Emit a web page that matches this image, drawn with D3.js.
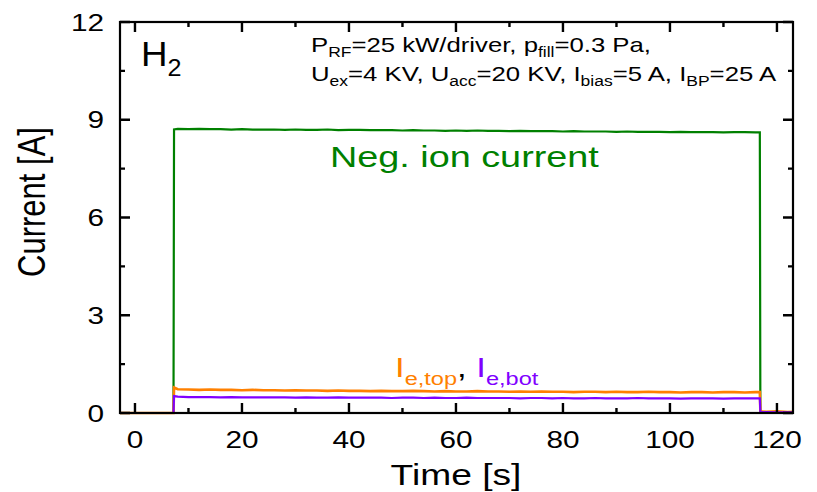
<!DOCTYPE html>
<html>
<head>
<meta charset="utf-8">
<script src="https://cdn.jsdelivr.net/npm/d3@7"></script>
<style>
  html, body { margin: 0; padding: 0; background: #fff; }
  svg { display: block; }
  text { font-family: "Liberation Sans", Arial, Helvetica, sans-serif; }
</style>
</head>
<body>
<svg id="chart" width="817" height="492"></svg>
<script>
// ---------------- data ----------------
const time = [-2.8, 7.2, 7.3,
  8, 10, 12, 14, 16, 18, 20, 22, 24, 26,
  28, 30, 32, 34, 36, 38, 40, 42, 44, 46,
  48, 50, 52, 54, 56, 58, 60, 62, 64, 66,
  68, 70, 72, 74, 76, 78, 80, 82, 84, 86,
  88, 90, 92, 94, 96, 98, 100, 102, 104, 106,
  108, 110, 112, 114, 116,
  116.8, 116.9, 118, 120, 122, 123];

const negIonCurrent = [0, 0, 8.70,
  8.72, 8.71, 8.72, 8.71, 8.71, 8.70, 8.71, 8.70, 8.70, 8.70,
  8.69, 8.70, 8.69, 8.69, 8.70, 8.68, 8.69, 8.69, 8.68, 8.68,
  8.68, 8.67, 8.68, 8.67, 8.67, 8.66, 8.67, 8.66, 8.67, 8.66,
  8.66, 8.65, 8.66, 8.65, 8.65, 8.65, 8.64, 8.65, 8.64, 8.64,
  8.64, 8.63, 8.64, 8.63, 8.63, 8.63, 8.62, 8.63, 8.62, 8.62,
  8.62, 8.61, 8.62, 8.62, 8.61,
  8.61, 0, 0, 0, 0, 0];

const eTop = [0, 0, 0.78,
  0.73, 0.72, 0.71, 0.72, 0.71, 0.71, 0.70, 0.71, 0.70, 0.70,
  0.69, 0.70, 0.69, 0.69, 0.68, 0.69, 0.68, 0.68, 0.67, 0.68,
  0.67, 0.67, 0.68, 0.67, 0.66, 0.67, 0.66, 0.66, 0.67, 0.66,
  0.66, 0.65, 0.66, 0.65, 0.66, 0.65, 0.65, 0.64, 0.65, 0.65,
  0.64, 0.65, 0.64, 0.64, 0.65, 0.64, 0.64, 0.63, 0.64, 0.64,
  0.63, 0.64, 0.64, 0.63, 0.64,
  0.64, 0.05, 0.04, 0.05, 0.03, 0.04];

const eBot = [0, 0, 0.52,
  0.50, 0.49, 0.49, 0.49, 0.48, 0.49, 0.48, 0.48, 0.48, 0.48,
  0.48, 0.47, 0.48, 0.47, 0.47, 0.48, 0.47, 0.47, 0.47, 0.47,
  0.46, 0.47, 0.47, 0.46, 0.47, 0.46, 0.46, 0.47, 0.46, 0.46,
  0.46, 0.46, 0.45, 0.46, 0.46, 0.45, 0.46, 0.45, 0.45, 0.46,
  0.45, 0.45, 0.45, 0.46, 0.45, 0.45, 0.45, 0.44, 0.45, 0.45,
  0.45, 0.44, 0.45, 0.45, 0.45,
  0.45, 0.02, 0.03, 0.02, 0.02, 0.02];

const xMajorTicks = [0, 20, 40, 60, 80, 100, 120];
const xMinorTicks = [10, 30, 50, 70, 90, 110];
const yMajorTicks = [0, 3, 6, 9, 12];
const yMinorTicks = [1.5, 4.5, 7.5, 10.5];
const xTickLabels = ["0", "20", "40", "60", "80", "100", "120"];
const yTickLabels = ["0", "3", "6", "9", "12"];

// ---------------- layout ----------------
const svg = d3.select("#chart");
const L = 120, R = 793, T = 22, B = 413;
const SX = 1.24; // horizontal text stretch of the original

const x = d3.scaleLinear().domain([-2.8, 123]).range([L, R]);
const y = d3.scaleLinear().domain([0, 12]).range([B, T]);

const COL_GREEN = "#008000";
const COL_ORANGE = "#ff8000";
const COL_PURPLE = "#8000ff";

// ---------------- lines ----------------
const lineGen = (vals) => d3.line()
  .x((d, i) => x(time[i]))
  .y((d) => y(d))(vals);

const plot = svg.append("g");
plot.append("path").attr("d", lineGen(negIonCurrent))
  .attr("fill", "none").attr("stroke", COL_GREEN).attr("stroke-width", 2.2);
plot.append("path").attr("d", lineGen(eTop))
  .attr("fill", "none").attr("stroke", COL_ORANGE).attr("stroke-width", 2.6);
plot.append("path").attr("d", lineGen(eBot))
  .attr("fill", "none").attr("stroke", COL_PURPLE).attr("stroke-width", 2.2);

// ---------------- text helpers ----------------
function sText(px, py, sx, rot) {
  return svg.append("g")
    .attr("transform", `translate(${px},${py}) scale(${sx},1)` + (rot ? ` rotate(${rot})` : ""))
    .append("text").attr("x", 0).attr("y", 0);
}

// tick labels
xMajorTicks.forEach((v, i) => {
  sText(x(v), 448, SX).attr("text-anchor", "middle").attr("font-size", 24)
    .attr("fill", "#000").text(xTickLabels[i]);
});
yMajorTicks.forEach((v, i) => {
  sText(104, y(v) + 8.6, SX).attr("text-anchor", "end").attr("font-size", 24)
    .attr("fill", "#000").text(yTickLabels[i]);
});

// axis titles
sText(456, 485, SX).attr("text-anchor", "middle").attr("font-size", 30).text("Time [s]");
sText(45, 202, SX, -90).attr("text-anchor", "middle").attr("font-size", 31).text("Current [A]");

// H2
{
  const t = sText(141, 66, 1.05).attr("font-size", 35).attr("fill", "#000");
  t.append("tspan").text("H");
  t.append("tspan").attr("font-size", 24).attr("dy", 10).text("2");
}

// parameters
function subLine(px, py, parts, size, sx) {
  const t = sText(px, py, sx).attr("font-size", size).attr("fill", "#000");
  let low = false;
  parts.forEach(p => {
    const sub = p[1];
    const ts = t.append("tspan").text(p[0]);
    if (sub && !low) { ts.attr("font-size", size * 0.68).attr("dy", 5); low = true; }
    else if (!sub && low) { ts.attr("dy", -5); low = false; }
  });
  return t;
}
subLine(311, 52, [["P"], ["RF", 1], ["=25 kW/driver, p"], ["fill", 1], ["=0.3 Pa,"]], 21, 1.225);
subLine(311, 81, [["U"], ["ex", 1], ["=4 KV, U"], ["acc", 1], ["=20 KV, I"], ["bias", 1], ["=5 A, I"], ["BP", 1], ["=25 A"]], 21, 1.225);

// series labels
sText(330, 167, 1.26).attr("font-size", 30).attr("fill", COL_GREEN).text("Neg. ion current");
{
  const t = sText(395, 377, SX).attr("font-size", 28);
  t.append("tspan").attr("fill", COL_ORANGE).text("I");
  t.append("tspan").attr("fill", COL_ORANGE).attr("font-size", 19).attr("dy", 8).text("e,top");
  t.append("tspan").attr("fill", "#000").attr("dy", -8).text(", ");
  t.append("tspan").attr("fill", COL_PURPLE).text("I");
  t.append("tspan").attr("fill", COL_PURPLE).attr("font-size", 19).attr("dy", 8).text("e,bot");
}

// ---------------- frame and inward ticks on all four sides (drawn last) ----------------
svg.append("rect").attr("x", L).attr("y", T).attr("width", R - L).attr("height", B - T)
  .attr("fill", "none").attr("stroke", "#000").attr("stroke-width", 2.2);

const tickPath = d3.path();
function xTickMarks(vals, len) {
  vals.forEach(v => {
    const px = x(v);
    tickPath.moveTo(px, B); tickPath.lineTo(px, B - len);
    tickPath.moveTo(px, T); tickPath.lineTo(px, T + len);
  });
}
function yTickMarks(vals, len) {
  vals.forEach(v => {
    const py = y(v);
    tickPath.moveTo(L, py); tickPath.lineTo(L + len, py);
    tickPath.moveTo(R, py); tickPath.lineTo(R - len, py);
  });
}
xTickMarks(xMajorTicks, 10);
xTickMarks(xMinorTicks, 5);
yTickMarks(yMajorTicks, 10);
yTickMarks(yMinorTicks, 5);
svg.append("path").attr("d", tickPath.toString())
  .attr("fill", "none").attr("stroke", "#000").attr("stroke-width", 2.4);
</script>
</body>
</html>
